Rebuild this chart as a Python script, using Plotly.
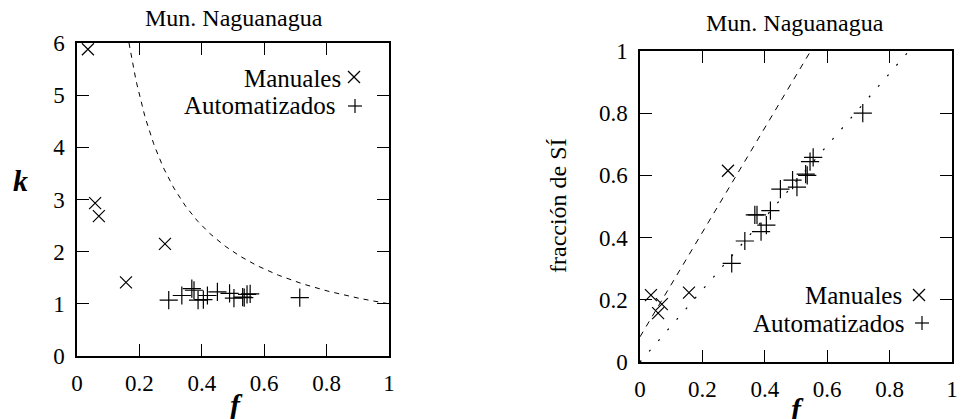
import plotly.graph_objects as go

# ---------------- data ----------------
title_text = "Mun. Naguanagua"
legend_labels = ["Manuales", "Automatizados"]

f_manual = [0.035, 0.058, 0.070, 0.157, 0.282]
k_manual = [5.88, 2.93, 2.68, 1.41, 2.15]
frac_manual = [0.215, 0.157, 0.186, 0.223, 0.615]

f_auto = [0.294, 0.336, 0.368, 0.375, 0.388, 0.405, 0.418, 0.450, 0.489, 0.503,
          0.531, 0.536, 0.545, 0.555, 0.714]
k_auto = [1.07, 1.16, 1.29, 1.26, 1.07, 1.08, 1.16, 1.23, 1.20, 1.11,
          1.13, 1.12, 1.18, 1.19, 1.12]
frac_auto = [0.317, 0.389, 0.473, 0.473, 0.419, 0.440, 0.487, 0.556, 0.585, 0.562,
             0.604, 0.600, 0.644, 0.658, 0.800]

# reference curve k = 1/f (drawn from f = 1/6 to 1)
curve_f = [1 / 6 + i * (1 - 1 / 6) / 200 for i in range(201)]
curve_k = [1 / v for v in curve_f]

# fitted lines on the right panel (endpoints)
fit_manual_f = [0.0, 0.547]
fit_manual_frac = [0.081, 1.0]
fit_auto_f = [0.0, 0.862]
fit_auto_frac = [0.0, 1.0]

x_ticks = [0, 0.2, 0.4, 0.6, 0.8, 1]
k_ticks = [0, 1, 2, 3, 4, 5, 6]
frac_ticks = [0, 0.2, 0.4, 0.6, 0.8, 1]

# ---------------- layout helpers ----------------
W, H = 971, 419
OFF = 8  # page body margin offset
SERIF = "Liberation Serif"


def px(x):
    return (x - OFF) / W


def py(y):
    return 1 - (y - OFF) / H


fig = go.Figure()

mk_x = dict(symbol="x-thin", size=12, line=dict(color="black", width=1.2), color="black")
mk_p = dict(symbol="cross-thin", size=13, line=dict(color="black", width=1.2), color="black")

# left panel
fig.add_trace(go.Scatter(x=curve_f, y=curve_k, mode="lines",
                         line=dict(color="black", width=1, dash="5px,5px"),
                         xaxis="x", yaxis="y", showlegend=False))
fig.add_trace(go.Scatter(x=f_manual, y=k_manual, mode="markers", marker=mk_x,
                         xaxis="x", yaxis="y", showlegend=False))
fig.add_trace(go.Scatter(x=f_auto, y=k_auto, mode="markers", marker=mk_p,
                         xaxis="x", yaxis="y", showlegend=False))

# right panel
fig.add_trace(go.Scatter(x=fit_manual_f, y=fit_manual_frac, mode="lines",
                         line=dict(color="black", width=1, dash="6px,6px"),
                         xaxis="x2", yaxis="y2", showlegend=False))
fig.add_trace(go.Scatter(x=fit_auto_f, y=fit_auto_frac, mode="lines",
                         line=dict(color="black", width=1.2, dash="2px,12px"),
                         xaxis="x2", yaxis="y2", showlegend=False))
fig.add_trace(go.Scatter(x=f_manual, y=frac_manual, mode="markers", marker=mk_x,
                         xaxis="x2", yaxis="y2", showlegend=False))
fig.add_trace(go.Scatter(x=f_auto, y=frac_auto, mode="markers", marker=mk_p,
                         xaxis="x2", yaxis="y2", showlegend=False))

axis_common = dict(
    showline=True, mirror="ticks", linecolor="black", linewidth=1.5,
    ticks="inside", ticklen=12, tickwidth=1, tickcolor="black",
    showgrid=False, zeroline=False, automargin=False,
    tickfont=dict(family=SERIF, size=23, color="black"),
    ticklabelstandoff=6,
)

fig.update_layout(
    width=W, height=H, autosize=False,
    margin=dict(l=0, r=0, t=0, b=0, pad=0, autoexpand=False),
    paper_bgcolor="white", plot_bgcolor="white",
    font=dict(family=SERIF, color="black"),
    showlegend=False,
    xaxis=dict(domain=[px(77), px(389)], range=[0, 1], tickvals=x_ticks,
               anchor="y", **axis_common),
    yaxis=dict(domain=[py(356), py(43)], range=[0, 6], tickvals=k_ticks,
               anchor="x", **axis_common),
    xaxis2=dict(domain=[px(640), px(952)], range=[0, 1], tickvals=x_ticks,
                anchor="y2", **axis_common),
    yaxis2=dict(domain=[py(362), py(51)], range=[0, 1], tickvals=frac_ticks,
                anchor="x2", **axis_common),
)

ann = []


def text(x, y, s, size, xanchor="center", angle=0, bold_italic=False):
    t = f"<b><i>{s}</i></b>" if bold_italic else s
    ann.append(dict(x=px(x), y=py(y), xref="paper", yref="paper", text=t,
                    showarrow=False, xanchor=xanchor, yanchor="middle",
                    textangle=angle,
                    font=dict(family=SERIF, size=size, color="black")))


# titles
text(234, 18, title_text, 24)
text(795, 23, title_text, 24)
# axis titles
text(20, 180, "k", 30, bold_italic=True)
text(236, 404, "f", 30, bold_italic=True)
text(797, 408, "f", 30, bold_italic=True)
text(558, 206, "fracción de SÍ", 24, angle=-90)
text(966, 405, "i", 23)

# legends
text(343, 78, legend_labels[0], 25, xanchor="right")
text(337, 106, legend_labels[1], 25, xanchor="right")
text(904, 295, legend_labels[0], 25, xanchor="right")
text(906, 323, legend_labels[1], 25, xanchor="right")

fig.update_layout(annotations=ann)

shapes = []


def glyph(cx, cy, kind, r=6):
    if kind == "x":
        segs = [((cx - r, cy - r), (cx + r, cy + r)), ((cx - r, cy + r), (cx + r, cy - r))]
    else:
        r = r + 1
        segs = [((cx - r, cy), (cx + r, cy)), ((cx, cy - r), (cx, cy + r))]
    for (a, b) in segs:
        shapes.append(dict(type="line", xref="paper", yref="paper",
                           x0=px(a[0]), y0=py(a[1]), x1=px(b[0]), y1=py(b[1]),
                           line=dict(color="black", width=1.2)))


glyph(354, 77, "x")
glyph(355, 106, "+")
glyph(919, 295, "x")
glyph(922, 323, "+")

fig.update_layout(shapes=shapes)

fig.write_html("out.html")
